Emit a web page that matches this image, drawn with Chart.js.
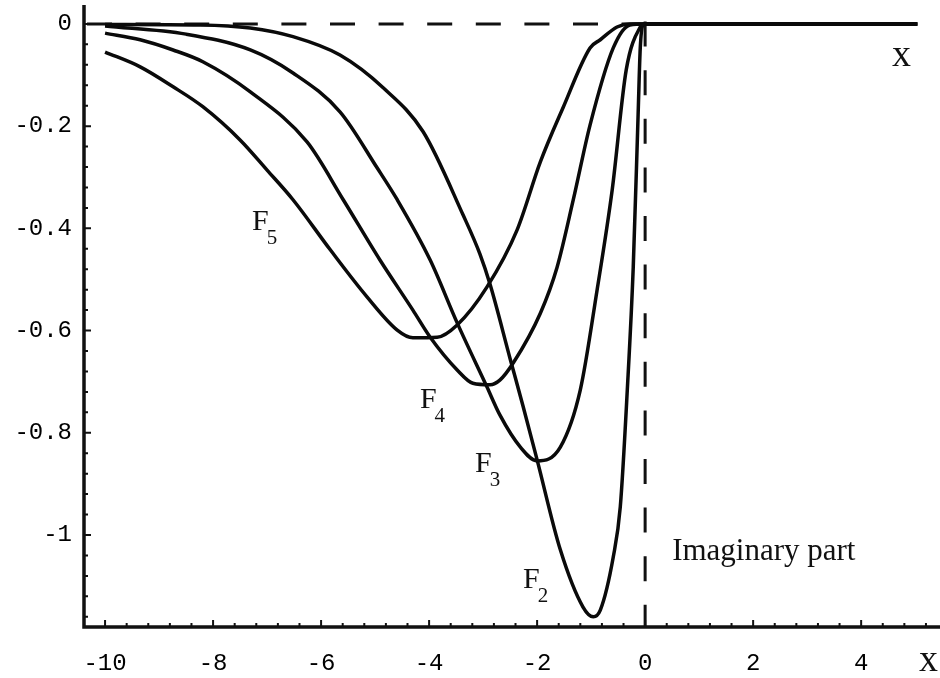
<!DOCTYPE html>
<html>
<head>
<meta charset="utf-8">
<script src="https://cdn.jsdelivr.net/npm/chart.js@4.4.1/dist/chart.umd.min.js"></script>
<style>
  html, body { margin: 0; background: #fff; }
  #wrap { width: 940px; height: 678px; position: relative; }
</style>
</head>
<body>
<div id="wrap"><canvas id="chartIm"></canvas></div>
<script>
// values (x, Im part) for each curve
let f2x = [-10, -8.24, -7.31, -6.52, -5.65, -4.85, -4.11, -3.37, -3.06, -2.87, -2.5, -2.26, -2.0, -1.57, -1.15, -0.96, -0.83, -0.59, -0.46, -0.33, -0.22, -0.13, -0.09, -0.04, 0, 5.04];
let f2y = [-0.001, -0.002, -0.008, -0.025, -0.061, -0.125, -0.211, -0.374, -0.45, -0.51, -0.655, -0.748, -0.853, -1.029, -1.141, -1.160, -1.147, -1.043, -0.945, -0.716, -0.476, -0.178, -0.047, -0.002, 0, 0];

let f3x = [-10, -8.5, -7.31, -6.52, -5.65, -4.96, -4.59, -3.98, -3.48, -2.93, -2.69, -2.31, -2.0, -1.57, -1.2, -0.89, -0.61, -0.35, -0.09, 0, 5.04];
let f3y = [-0.004, -0.02, -0.051, -0.096, -0.172, -0.282, -0.344, -0.462, -0.585, -0.710, -0.765, -0.828, -0.855, -0.828, -0.716, -0.521, -0.325, -0.090, -0.006, 0, 0];

let f4x = [-10, -9.35, -8.74, -8.19, -7.31, -6.26, -5.59, -4.91, -4.30, -3.98, -3.48, -3.19, -2.87, -2.69, -2.44, -1.94, -1.63, -1.33, -1.02, -0.59, -0.28, 0, 5.04];
let f4y = [-0.018, -0.031, -0.051, -0.074, -0.133, -0.231, -0.344, -0.462, -0.560, -0.613, -0.677, -0.703, -0.706, -0.697, -0.663, -0.566, -0.476, -0.344, -0.198, -0.047, -0.002, 0, 0];

let f5x = [-10, -9.35, -8.74, -8.19, -7.5, -7.0, -6.52, -5.83, -5.15, -4.59, -4.30, -3.85, -3.48, -2.93, -2.37, -1.94, -1.52, -1.02, -0.83, -0.52, -0.28, 0, 5.04];
let f5y = [-0.055, -0.084, -0.123, -0.162, -0.227, -0.286, -0.344, -0.442, -0.534, -0.599, -0.614, -0.613, -0.589, -0.515, -0.403, -0.270, -0.164, -0.047, -0.031, -0.006, 0, 0, 0];

let xTickValues = [-10, -8, -6, -4, -2, 0, 2, 4];
let xTickLabels = ['-10', '-8', '-6', '-4', '-2', '0', '2', '4'];
let yTickValues = [0, -0.2, -0.4, -0.6, -0.8, -1];
let yTickLabels = ['0', '-0.2', '-0.4', '-0.6', '-0.8', '-1'];

// curve labels, placed in data coordinates
let notes = [
  { sub: '5', x: -7.28, y: -0.403 },
  { sub: '4', x: -4.17, y: -0.751 },
  { sub: '3', x: -3.15, y: -0.877 },
  { sub: '2', x: -2.26, y: -1.104 }
];

function pts(xs, ys) {
  return xs.map((v, i) => ({ x: v, y: ys[i] }));
}

function curve(xs, ys) {
  return {
    data: pts(xs, ys),
    borderColor: '#0a0a0a',
    borderWidth: 3.5,
    pointRadius: 0,
    fill: false,
    cubicInterpolationMode: 'monotone'
  };
}

const mmaAxes = {
  id: 'mmaAxes',
  beforeDatasetsDraw(chart) {
    const { ctx, chartArea: a, scales: { x, y } } = chart;
    const x0 = x.getPixelForValue(0), y0 = y.getPixelForValue(0);
    ctx.save();
    ctx.strokeStyle = '#111';
    ctx.lineWidth = 3;
    ctx.setLineDash([25, 23.6]);
    ctx.beginPath(); ctx.moveTo(a.left + 3, y0); ctx.lineTo(x0, y0); ctx.stroke();
    ctx.lineDashOffset = 32;
    ctx.beginPath(); ctx.moveTo(x0, a.top); ctx.lineTo(x0, a.bottom); ctx.stroke();
    ctx.restore();
  },
  afterDatasetsDraw(chart) {
    const { ctx, chartArea: a, scales: { x, y }, width } = chart;
    ctx.save();
    ctx.strokeStyle = '#111';
    ctx.lineWidth = 3.5;
    ctx.beginPath();
    ctx.moveTo(a.left, a.top); ctx.lineTo(a.left, a.bottom); ctx.lineTo(width, a.bottom);
    ctx.stroke();

    // inward ticks, Mathematica style
    ctx.lineWidth = 2;
    ctx.beginPath();
    for (let k = 0; k <= 38; k++) {
      const v = -10 + k * 0.4, px = x.getPixelForValue(v);
      const len = k % 5 === 0 ? 7 : 4;
      ctx.moveTo(px, a.bottom); ctx.lineTo(px, a.bottom - len);
    }
    for (let k = 0; k <= 29; k++) {
      const v = -k * 0.04, py = y.getPixelForValue(v);
      const len = k % 5 === 0 ? 7 : 4;
      ctx.moveTo(a.left, py); ctx.lineTo(a.left + len, py);
    }
    ctx.stroke();

    ctx.fillStyle = '#111';
    ctx.textBaseline = 'alphabetic';
    notes.forEach(n => {
      const px = x.getPixelForValue(n.x), py = y.getPixelForValue(n.y);
      ctx.font = '30px "Liberation Serif"';
      ctx.fillText('F', px, py);
      const w = ctx.measureText('F').width;
      ctx.font = '21px "Liberation Serif"';
      ctx.fillText(n.sub, px + w - 2, py + 14);
    });

    ctx.font = '31px "Liberation Serif"';
    ctx.fillText('Imaginary part', x.getPixelForValue(0.5), y.getPixelForValue(-1.049));
    ctx.font = '38px "Liberation Serif"';
    ctx.fillText('x', x.getPixelForValue(4.57), y.getPixelForValue(-0.082));
    ctx.fillText('x', x.getPixelForValue(5.07), a.bottom + 44);
    ctx.restore();
  }
};

let ctxIm = document.getElementById('chartIm').getContext('2d');

let chartIm = new Chart(ctxIm, {
  type: 'line',
  data: {
    datasets: [curve(f2x, f2y), curve(f3x, f3y), curve(f4x, f4y), curve(f5x, f5y)]
  },
  options: {
    responsive: true,
    maintainAspectRatio: false,
    animation: false,
    layout: { padding: { top: 5, left: 0, right: 0, bottom: 0 } },
    plugins: { legend: { display: false }, tooltip: { enabled: false } },
    scales: {
      x: {
        type: 'linear',
        min: -10.39,
        max: 5.46,
        grid: { display: false, drawTicks: false },
        border: { display: false },
        afterBuildTicks: s => { s.ticks = xTickValues.map(v => ({ value: v })); },
        afterFit: s => { s.height = 51; s.paddingLeft = 0; s.paddingRight = 0; },
        ticks: {
          autoSkip: false,
          maxRotation: 0,
          padding: 22,
          color: '#000',
          font: { family: 'Liberation Mono', size: 24 },
          callback: (v, i) => xTickLabels[i]
        }
      },
      y: {
        type: 'linear',
        min: -1.18,
        max: 0.037,
        grid: { display: false, drawTicks: false },
        border: { display: false },
        afterBuildTicks: s => { s.ticks = yTickValues.map(v => ({ value: v })); },
        afterFit: s => { s.width = 84; s.paddingTop = 0; s.paddingBottom = 0; },
        ticks: {
          autoSkip: false,
          padding: 12,
          color: '#000',
          font: { family: 'Liberation Mono', size: 24 },
          callback: (v, i) => yTickLabels[i]
        }
      }
    }
  },
  plugins: [mmaAxes]
});
</script>
</body>
</html>
